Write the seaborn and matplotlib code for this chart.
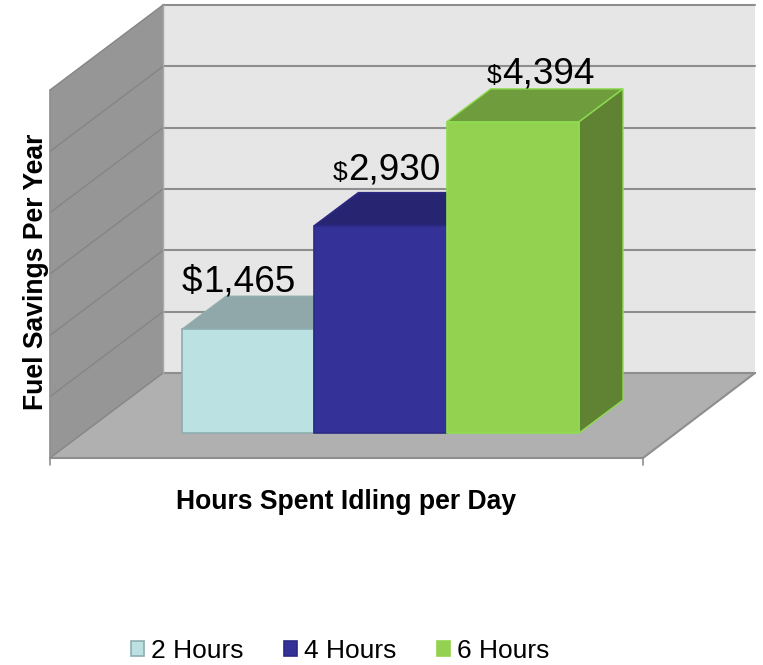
import matplotlib
matplotlib.use("Agg")
import matplotlib.pyplot as plt
import seaborn as sns
import pandas as pd
from matplotlib.patches import Polygon
from matplotlib.transforms import Affine2D

categories = ["2 Hours", "4 Hours", "6 Hours"]
savings = [1465, 2930, 4394]
front_colors = ["#bbe1e3", "#343198", "#93d251"]
top_colors = ["#90a8aa", "#272572", "#6f9c3c"]
side_colors = ["#90a8aa", "#272572", "#5f8333"]
edge_colors = ["#8fadaf", "#2c2a85", "#8ddc50"]
wall_levels = [0, 1000, 2000, 3000, 4000, 5000, 6000]
x_title = "Hours Spent Idling per Day"
y_title = "Fuel Savings Per Year"

W, H = 763, 665
PX_PER_CAT, PX_PER_USD = 132.33, 0.0708
X0_PX, Y0_PX = 248.17, 433.0
DEPTH_X, DEPTH_Y = 44 / PX_PER_CAT, 33 / PX_PER_USD

sns.set_theme(style="white")
plt.rcParams["font.family"] = ["Liberation Sans", "DejaVu Sans"]

fig = plt.figure(figsize=(W / 100, H / 100), dpi=100)
ax = fig.add_axes([0, 0, 1, 1])
px = Affine2D().scale(1 / W, -1 / H).translate(0, 1) + fig.transFigure

df = pd.DataFrame({"hours": categories, "savings": savings})
sns.barplot(data=df, x="hours", y="savings", hue="hours", order=categories,
            hue_order=categories, palette=front_colors, width=1, dodge=False,
            saturation=1, ax=ax, legend=True)
ax.set_xlim(-X0_PX / PX_PER_CAT, (W - X0_PX) / PX_PER_CAT)
ax.set_ylim(-(H - Y0_PX) / PX_PER_USD, Y0_PX / PX_PER_USD)
ax.axis("off")

# chart box: floor and walls
wall_px = 61.33
ax.add_patch(Polygon([(50, 458), (163, 373), (163, 5), (50, 90)], transform=px,
                     fc="#969696", ec="none", zorder=0.5))
ax.add_patch(Polygon([(163, 5), (755, 5), (755, 373), (163, 373)], transform=px,
                     fc="#e6e6e6", ec="none", zorder=0.5))
ax.add_patch(Polygon([(50, 458), (643, 458), (755, 373), (163, 373)], transform=px,
                     fc="#b0b0b0", ec="none", zorder=0.6))
for k, _ in enumerate(wall_levels):
    dy = k * wall_px
    ax.plot([163, 755], [373 - dy, 373 - dy], transform=px, color="#8e8e8e", lw=1.5, zorder=0.7)
    ax.plot([50, 163], [458 - dy, 373 - dy], transform=px, color="#858585", lw=1.0, zorder=0.7)
ax.plot([50, 50], [90, 465], transform=px, color="#8e8e8e", lw=1.2, zorder=0.7)
ax.plot([163, 163], [5, 373], transform=px, color="#a8a8a8", lw=1.0, zorder=0.7)
ax.plot([50, 643, 755], [458, 458, 373], transform=px, color="#8e8e8e", lw=1.5, zorder=0.7)
ax.plot([643, 643], [458, 465], transform=px, color="#8e8e8e", lw=1.2, zorder=0.7)

# bars: extrude each seaborn bar
for i, bar in enumerate(ax.patches[:len(categories)]):
    x0, x1 = bar.get_x(), bar.get_x() + bar.get_width()
    h = bar.get_height()
    bar.set_edgecolor(edge_colors[i])
    bar.set_linewidth(1.2)
    bar.set_zorder(3 + 2 * i)
    ax.add_patch(Polygon([(x0, h), (x1, h), (x1 + DEPTH_X, h + DEPTH_Y), (x0 + DEPTH_X, h + DEPTH_Y)],
                         fc=top_colors[i], ec=edge_colors[i], lw=1.0, zorder=2 + 2 * i))
    ax.add_patch(Polygon([(x1, 0), (x1 + DEPTH_X, DEPTH_Y), (x1 + DEPTH_X, h + DEPTH_Y), (x1, h)],
                         fc=side_colors[i], ec=edge_colors[i], lw=1.0, zorder=2 + 2 * i))

# value labels
label_big = 26.6
label_small = [26.6, 19, 19]
label_anchor = [(203, 292), (348, 180), (502, 83)]
for i, v in enumerate(savings):
    ax_x, ax_y = label_anchor[i]
    ax.text(ax_x, ax_y, f"{v:,}", transform=px, fontsize=label_big, color="black",
            ha="left", va="baseline", zorder=20)
    ax.text(ax_x - 0.5, ax_y, "$", transform=px, fontsize=label_small[i], color="black",
            ha="right", va="baseline", zorder=20)

ax.text(346, 502, x_title, transform=px, fontsize=19.1, fontweight="bold", ha="center", va="center", color="black")
ax.text(36, 272, y_title, transform=px, fontsize=19.1, fontweight="bold", rotation=90, ha="center", va="center", color="black")

handles, labels = ax.get_legend_handles_labels()
leg = ax.legend(handles, labels, loc="center", bbox_to_anchor=(340 / W, 1 - 651 / H),
                bbox_transform=fig.transFigure, ncols=3, frameon=False, fontsize=19,
                handlelength=0.5, handleheight=0.5, handletextpad=0.25, columnspacing=1.55,
                borderpad=0, labelcolor="black")
for hd, ec in zip(leg.get_patches(), ["#8fadaf", "#2c2a85", "#93d251"]):
    hd.set_edgecolor(ec)
    hd.set_linewidth(1.2)

fig.savefig("out.png", dpi=100)
